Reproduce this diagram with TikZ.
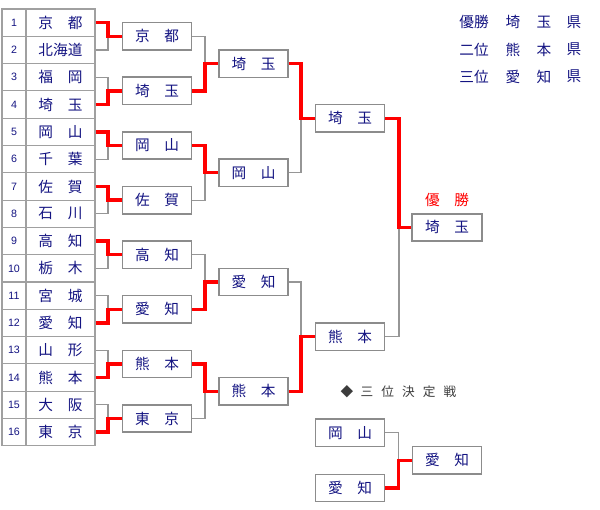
\documentclass[tikz,border=0pt]{standalone}
\usepackage{fontspec}
\setmainfont{Liberation Sans}
\newfontfamily\jp{Noto Sans CJK JP}
\definecolor{jnavy}{RGB}{20,20,130}
\definecolor{boxgray}{RGB}{140,140,140}
\definecolor{cellgray}{RGB}{160,160,160}
\definecolor{linegray}{RGB}{150,150,150}
\definecolor{txtgray}{RGB}{60,60,60}
\tikzset{
  numcell/.style={draw=cellgray, line width=0.85pt, rectangle, inner sep=0pt, minimum width=18pt, minimum height=20.5pt, text=jnavy, font=\fontsize{8pt}{9pt}\selectfont},
  namecell/.style={draw=cellgray, line width=0.85pt, rectangle, inner sep=0pt, minimum width=51.75pt, minimum height=20.5pt, text=jnavy, font=\jp\fontsize{11pt}{12pt}\selectfont},
  rbox/.style={draw=boxgray, line width=1.1pt, fill=white, rectangle, inner sep=0pt, minimum width=52pt, minimum height=20.5pt, text=jnavy, font=\jp\fontsize{11pt}{12pt}\selectfont},
  lose/.style={draw=linegray, line width=0.9pt},
  win/.style={draw=red, line width=2.5pt, line join=miter},
  legend/.style={text=jnavy, inner sep=0pt, font=\jp\fontsize{11pt}{12pt}\selectfont},
}
\newcommand\bout[4]{%
  \draw[lose] (#2.east) -- (#2.east -| #4) |- (#3.west);
  \draw[win] (#1.east) -- (#1.east -| #4) |- (#3.west);
}
\begin{document}
\begin{tikzpicture}[x=0.75pt,y=-0.75pt]
\useasboundingbox (0,0) rectangle (600,510);
\fill[white] (0,0) rectangle (600,510);
% left table
\foreach \k/\nm in {1/京　都,2/北海道,3/福　岡,4/埼　玉,5/岡　山,6/千　葉,7/佐　賀,8/石　川,9/高　知,10/栃　木,11/宮　城,12/愛　知,13/山　形,14/熊　本,15/大　阪,16/東　京}{
  \node[numcell] (m\k) at (14,{9+27.3*(\k-0.5)}) {\k};
  \node[namecell] (n\k) at (60.5,{9+27.3*(\k-0.5)}) {\nm};
}
% connector columns
\coordinate (x1) at (108,0);
\coordinate (x2) at (205,0);
\coordinate (x3) at (301,0);
\coordinate (x4) at (399,0);
% round 1 boxes
\foreach \i/\nm in {1/京　都,2/埼　玉,3/岡　山,4/佐　賀,5/高　知,6/愛　知,7/熊　本,8/東　京}{
  \node[rbox] (a\i) at (157,{9+27.3*(2*\i-1)}) {\nm};
}
% round 2 boxes
\foreach \i/\nm in {1/埼　玉,2/岡　山,3/愛　知,4/熊　本}{
  \node[rbox] (b\i) at (253.5,{9+27.3*(4*\i-2)}) {\nm};
}
% semifinal boxes
\node[rbox] (c1) at (350,{9+27.3*4}) {埼　玉};
\node[rbox] (c2) at (350,{9+27.3*12}) {熊　本};
% final
\node[rbox, line width=1.4pt] (f) at (447,{9+27.3*8}) {埼　玉};
\node[text=red, inner sep=0pt, font=\jp\fontsize{11pt}{12pt}\selectfont] (ftitle) at (447,200) {優　勝};
% third place
\node[rbox] (t1) at (350,432.8) {岡　山};
\node[rbox] (t2) at (350,488) {愛　知};
\node[rbox] (tw) at (447,460.3) {愛　知};
\coordinate (x5) at (398.5,0);
% title for third place
\node[text=txtgray, inner sep=0pt, font=\jp\fontsize{9.5pt}{10pt}\selectfont] (d0) at (347,391.5) {◆};
\foreach \j/\ch in {0/三,1/位,2/決,3/定,4/戦}{
  \node[text=txtgray, inner sep=0pt, font=\jp\fontsize{9.5pt}{10pt}\selectfont] (d\j x) at ({367+20.75*\j},391.5) {\ch};
}
% legend
\foreach \r/\a/\b/\c in {0/優勝/埼/玉,1/二位/熊/本,2/三位/愛/知}{
  \node[legend] (l\r a) at (474,{22.3+27.2*\r}) {\a};
  \node[legend] (l\r b) at (513,{22.3+27.2*\r}) {\b};
  \node[legend] (l\r c) at (544,{22.3+27.2*\r}) {\c};
  \node[legend] (l\r d) at (574,{22.3+27.2*\r}) {県};
}
% round 1 connectors
\bout{n1}{n2}{a1}{x1}
\bout{n4}{n3}{a2}{x1}
\bout{n5}{n6}{a3}{x1}
\bout{n7}{n8}{a4}{x1}
\bout{n9}{n10}{a5}{x1}
\bout{n12}{n11}{a6}{x1}
\bout{n14}{n13}{a7}{x1}
\bout{n16}{n15}{a8}{x1}
% round 2 connectors
\bout{a2}{a1}{b1}{x2}
\bout{a3}{a4}{b2}{x2}
\bout{a6}{a5}{b3}{x2}
\bout{a7}{a8}{b4}{x2}
% semifinal connectors
\bout{b1}{b2}{c1}{x3}
\bout{b4}{b3}{c2}{x3}
% final connectors
\bout{c1}{c2}{f}{x4}
% third place connectors
\bout{t2}{t1}{tw}{x5}
\end{tikzpicture}
\end{document}
